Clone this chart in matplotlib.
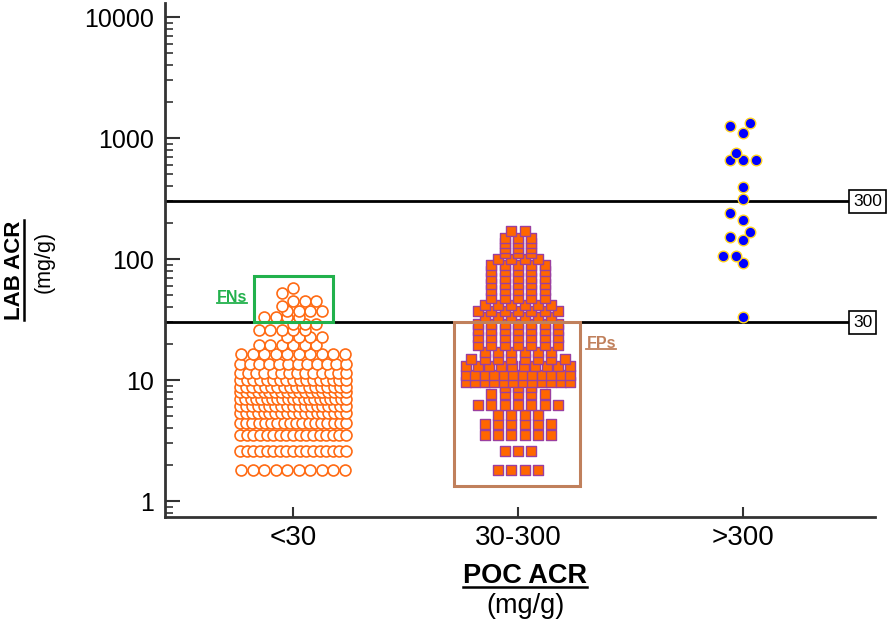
import numpy as np
import matplotlib
matplotlib.use('Agg')
import matplotlib.pyplot as plt
from matplotlib.lines import Line2D
from matplotlib.patches import Rectangle
from matplotlib.ticker import LogLocator, NullFormatter

plt.rcParams['font.family'] = ['Liberation Sans', 'DejaVu Sans']

categories = ['<30', '30-300', '>300']

# LAB ACR values per POC group, read as rows: value and number of samples in that row
lt30_levels = [1.8, 2.6, 3.5, 4.4, 5.3, 6.1, 7.0, 7.9, 8.8, 10.0, 11.5, 13.5, 16.5,
               19.5, 22.5, 26, 29, 33, 37, 41, 45, 52, 58]
lt30_counts = [10, 17, 17, 18, 19, 19, 21, 19, 18, 17, 14, 12, 10,
               6, 4, 5, 3, 4, 4, 1, 3, 1, 1]

mid_levels = [1.8, 2.6, 3.5, 4.3, 5.1, 6.2, 7.6, 8.8, 9.6, 11, 13, 15, 17, 19.5,
              22.5, 26, 29, 33, 37, 42, 48, 55, 62, 70, 80, 90, 100, 112, 123,
              135, 148, 172]
mid_counts = [4, 3, 6, 6, 4, 7, 5, 3, 12, 12, 10, 8, 6, 7,
              7, 7, 7, 6, 7, 6, 5, 5, 5, 5, 5, 5, 4, 3, 3,
              3, 3, 2]

gt300_levels = [33, 92, 106, 143, 152, 167, 210, 240, 315, 395, 660, 750, 1100, 1250, 1330]
gt300_counts = [1, 1, 2, 1, 1, 1, 1, 1, 1, 1, 3, 1, 1, 1, 1]

thresholds = [30, 300]

# pixel scale of the axes (used only to spread the points of a row)
PX_X = 225.0
PX_DEC = 121.0


def rows_layout(levels, counts, step, half_w, diam, stagger):
    xs, ys = [], []
    for v, n in sorted(zip(levels, counts)):
        s = step if n == 1 else min(step, 2 * half_w / (n - 1))
        base = (np.arange(n) - (n - 1) / 2) * s
        yp = PX_DEC * np.log10(v)
        best = base
        if stagger and xs and s >= step:
            px = np.array(xs)
            py = PX_DEC * np.log10(np.array(ys))
            best_cost = None
            for sh in [0, -step / 2, step / 2, -step, step]:
                cand = base + sh
                if np.abs(cand).max() > half_w + 1e-6:
                    continue
                dist = np.hypot(cand[:, None] - px[None, :], yp - py[None, :])
                cost = np.clip(diam - dist, 0, None).sum()
                if best_cost is None or cost < best_cost - 1e-6:
                    best_cost = cost
                    best = cand
        xs.extend(best)
        ys.extend([v] * n)
    return np.array(xs) / PX_X, np.array(ys)


fig = plt.figure(figsize=(8.94, 6.23), dpi=100)
ax = fig.add_axes([165 / 894, 106 / 623, 710 / 894, 514 / 623])
ax.set_yscale('log')
ax.set_ylim(0.738, 13060)
ax.set_xlim(-0.569, 2.587)

x1, y1 = rows_layout(lt30_levels, lt30_counts, 11.5, 53, 11.5, True)
ax.scatter(0 + x1, y1, s=62, marker='o', facecolor='white', edgecolor='#FF6A13',
           linewidth=1.2, zorder=3, clip_on=False)

x2, y2 = rows_layout(mid_levels, mid_counts, 13.3, 52, 11, False)
ax.scatter(1 + x2, y2, s=54, marker='s', facecolor='#FF6600', edgecolor='#9B3FA0',
           linewidth=1.0, zorder=3, clip_on=False)

x3, y3 = rows_layout(gt300_levels, gt300_counts, 13.3, 20, 10, True)
ax.scatter(2 + x3, y3, s=58, marker='o', facecolor='#0000FF', edgecolor='#FFD21F',
           linewidth=1.0, zorder=4, clip_on=False)

for t in thresholds:
    ax.axhline(t, xmin=0, xmax=0.962, color='black', lw=2.0, zorder=2)
    ax.text(2.49, t, str(t), fontsize=12.5, ha='left', va='center', clip_on=False,
            bbox=dict(boxstyle='square,pad=0.22', fc='white', ec='black', lw=1.2))

# FN / FP boxes
green = '#22B14C'
brown = '#C0805C'
ax.add_patch(Rectangle((-0.173, 30), 0.351, 72 - 30, fill=False, ec=green, lw=2.2, zorder=5))
ax.add_patch(Rectangle((1 - 0.284, 1.33), 0.56, 30 - 1.33, fill=False, ec=brown, lw=2.2, zorder=5))
fn_txt = ax.text(-0.271, 48.5, 'FNs', color=green, fontsize=11.5, fontweight='bold',
                 ha='center', va='center')
fp_txt = ax.text(1.37, 20.2, 'FPs', color=brown, fontsize=11.5, fontweight='bold',
                 ha='center', va='center')

# axes styling
for side in ['top', 'right']:
    ax.spines[side].set_visible(False)
for side in ['left', 'bottom']:
    ax.spines[side].set_linewidth(2)
    ax.spines[side].set_color('#333333')

ax.set_yticks([1, 10, 100, 1000, 10000])
ax.set_yticklabels(['1', '10', '100', '1000', '10000'])
ax.yaxis.set_minor_locator(LogLocator(base=10, subs=np.arange(2, 10)))
ax.yaxis.set_minor_formatter(NullFormatter())
ax.tick_params(axis='y', which='major', direction='in', length=11, width=1.5,
               color='#333333', labelsize=18, pad=8)
ax.tick_params(axis='y', which='minor', direction='in', length=5.5, width=1.2,
               color='#333333')
ax.set_xticks([0, 1, 2])
ax.set_xticklabels(categories)
ax.tick_params(axis='x', direction='in', length=7, width=1.5, color='#333333',
               labelsize=20, pad=6)

W, H = 894.0, 623.0
lab = fig.text(15 / W, 1 - 270 / H, 'LAB ACR', rotation=90, fontsize=16,
               fontweight='bold', ha='center', va='center')
fig.text(44 / W, 1 - 262 / H, '(mg/g)', rotation=90, fontsize=15.5, ha='center', va='center')
poc = fig.text(525 / W, 1 - 576 / H, 'POC ACR', fontsize=19.5, fontweight='bold',
               ha='center', va='center')
fig.text(525 / W, 1 - 606 / H, '(mg/g)', fontsize=19.5, ha='center', va='center')

# underlines
fig.canvas.draw()
r = fig.canvas.get_renderer()


def underline(t, color='black', lw=1.8, vertical=False):
    bb = t.get_window_extent(r)
    if vertical:
        x = (bb.x1 - 2) / W
        fig.add_artist(Line2D([x, x], [bb.y0 / H, bb.y1 / H], color=color, lw=lw,
                              transform=fig.transFigure))
    else:
        y = (bb.y0 + 2) / H
        fig.add_artist(Line2D([bb.x0 / W, bb.x1 / W], [y, y], color=color, lw=lw,
                              transform=fig.transFigure))


underline(lab, vertical=True)
underline(poc)
underline(fn_txt, color=green, lw=1.3)
underline(fp_txt, color=brown, lw=1.3)

fig.savefig('out.png', dpi=100)
